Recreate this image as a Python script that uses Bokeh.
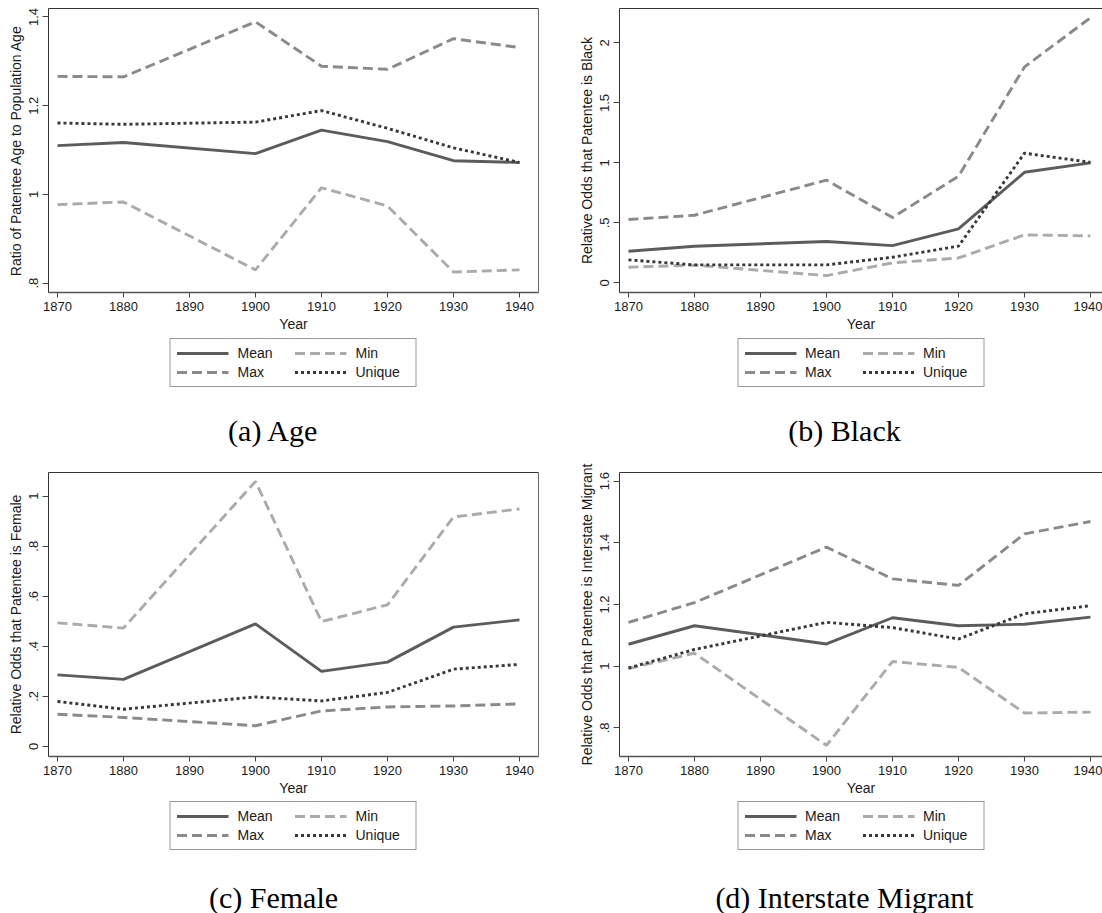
from bokeh.plotting import figure
from bokeh.models import Range1d, FixedTicker, LinearAxis, Legend, LegendItem, Label
from bokeh.layouts import column, row
from bokeh.embed import file_html
from bokeh.resources import INLINE

# ---------------- data ----------------
years = [1870, 1880, 1900, 1910, 1920, 1930, 1940]
year_ticks = [1870, 1880, 1890, 1900, 1910, 1920, 1930, 1940]

age_mean = [1.110, 1.117, 1.092, 1.145, 1.119, 1.076, 1.072]
age_max = [1.266, 1.265, 1.389, 1.289, 1.282, 1.351, 1.331]
age_min = [0.977, 0.983, 0.830, 1.015, 0.974, 0.825, 0.830]
age_unique = [1.161, 1.158, 1.163, 1.189, 1.149, 1.105, 1.072]
age_ticks = [0.8, 1.0, 1.2, 1.4]
age_tick_labels = [".8", "1", "1.2", "1.4"]

black_mean = [0.264, 0.306, 0.345, 0.311, 0.450, 0.922, 1.000]
black_max = [0.528, 0.564, 0.856, 0.545, 0.889, 1.800, 2.210]
black_min = [0.131, 0.148, 0.061, 0.167, 0.208, 0.400, 0.392]
black_unique = [0.192, 0.150, 0.150, 0.214, 0.306, 1.081, 1.005]
black_ticks = [0.0, 0.5, 1.0, 1.5, 2.0]
black_tick_labels = ["0", ".5", "1", "1.5", "2"]

female_mean = [0.286, 0.268, 0.490, 0.300, 0.337, 0.477, 0.506]
female_max = [0.129, 0.116, 0.083, 0.142, 0.158, 0.162, 0.170]
female_min = [0.494, 0.473, 1.059, 0.499, 0.566, 0.917, 0.949]
female_unique = [0.180, 0.149, 0.198, 0.182, 0.216, 0.309, 0.328]
female_ticks = [0.0, 0.2, 0.4, 0.6, 0.8, 1.0]
female_tick_labels = ["0", ".2", ".4", ".6", ".8", "1"]

migr_mean = [1.071, 1.131, 1.072, 1.157, 1.131, 1.136, 1.159]
migr_max = [1.142, 1.206, 1.386, 1.283, 1.262, 1.429, 1.469]
migr_min = [0.992, 1.042, 0.743, 1.015, 0.996, 0.848, 0.851]
migr_unique = [0.994, 1.054, 1.142, 1.125, 1.088, 1.170, 1.196]
migr_ticks = [0.8, 1.0, 1.2, 1.4, 1.6]
migr_tick_labels = [".8", "1", "1.2", "1.4", "1.6"]

series_names = ["Mean", "Max", "Min", "Unique"]

# ---------------- styles ----------------
SANS = "Liberation Sans"
SERIF = "Liberation Serif"
STYLES = [dict(line_color="#5c5c5c", line_width=2.9),
          dict(line_color="#8a8a8a", line_width=2.9, line_dash="10 5"),
          dict(line_color="#ababab", line_width=2.9, line_dash="10 5"),
          dict(line_color="#383838", line_width=2.9, line_dash="3 3")]
FRAME_H = 284
X0 = 1868.64
PX_PER_YEAR = 6.6
AXIS_H = 44


def border_axis(color):
    return LinearAxis(ticker=FixedTicker(ticks=[]), axis_line_color=color,
                      axis_line_width=1, major_tick_out=0, major_tick_in=0,
                      minor_tick_out=0, minor_tick_in=0, major_label_standoff=0,
                      major_label_text_font_size="0px", axis_label=None)


def plot_part(series, ylabel, yticks, ylabels, yrange, left, frame_w, right, top,
              right_line):
    p = figure(width=left + frame_w + right, height=top + FRAME_H + AXIS_H,
               min_border_left=left, min_border_right=right,
               min_border_top=top, min_border_bottom=AXIS_H,
               x_range=Range1d(X0, X0 + frame_w / PX_PER_YEAR),
               y_range=Range1d(*yrange),
               x_axis_location=None, y_axis_location=None,
               output_backend="svg", toolbar_location=None)
    p.grid.visible = False
    p.outline_line_color = None
    p.background_fill_color = "white"
    p.border_fill_color = "white"

    xa = LinearAxis(ticker=FixedTicker(ticks=year_ticks), axis_label="Year")
    ya = LinearAxis(ticker=FixedTicker(ticks=yticks), axis_label=ylabel,
                    major_label_overrides=dict(zip(yticks, ylabels)),
                    major_label_orientation="vertical")
    for ax in (xa, ya):
        ax.major_label_text_font = SANS
        ax.major_label_text_font_size = "13px"
        ax.major_label_text_color = "#1a1a1a"
        ax.axis_label_text_font = SANS
        ax.axis_label_text_font_size = "14px"
        ax.axis_label_text_font_style = "normal"
        ax.axis_label_text_color = "#1a1a1a"
        ax.major_tick_in = 0
        ax.minor_tick_line_color = None
        ax.major_tick_line_color = "#444444"
    xa.major_tick_out = 5
    xa.major_label_standoff = 4
    xa.axis_label_standoff = 2
    ya.major_tick_out = 6
    ya.major_label_standoff = 4
    ya.axis_label_standoff = 3
    xa.axis_line_color = "#555555"
    xa.axis_line_width = 1.6
    ya.axis_line_color = "#333333"
    ya.axis_line_width = 1
    p.add_layout(xa, "below")
    p.add_layout(ya, "left")
    p.add_layout(border_axis("#333333"), "above")
    if right_line:
        p.add_layout(border_axis("#666666"), "right")

    for vals, st in zip(series, STYLES):
        p.line(years, vals, **st)
    return p


def footer_part(series, caption, left, frame_w, right, height, leg_top, cap_x, cap_y):
    f = figure(width=left + frame_w + right, height=height,
               min_border_left=left, min_border_right=right,
               min_border_top=0, min_border_bottom=0,
               x_range=Range1d(0, frame_w), y_range=Range1d(height, 0),
               x_axis_location=None, y_axis_location=None,
               output_backend="svg", toolbar_location=None)
    f.grid.visible = False
    f.outline_line_color = None
    f.background_fill_color = "white"
    f.border_fill_color = "white"
    items = []
    # legend keys: same series and styles (their data lie outside this strip's view)
    for name, vals, st in zip(series_names, series, STYLES):
        r = f.line(years, vals, **st)
        items.append(LegendItem(label=name, renderers=[r]))
    legend = Legend(items=items, orientation="vertical", ncols=2,
                    location="top_center",
                    glyph_width=52, glyph_height=16, label_height=16,
                    label_width=54, label_standoff=9, spacing=3, padding=6,
                    margin=leg_top, border_line_color="#333333", border_line_width=1,
                    background_fill_color="white",
                    label_text_font=SANS, label_text_font_size="14px",
                    label_text_color="#1a1a1a")
    f.add_layout(legend)
    f.add_layout(Label(x=cap_x, y=cap_y, text=caption, text_align="center",
                       text_baseline="middle", text_font=SERIF,
                       text_font_size="30px", text_color="black"))
    return f


LEFT_A, FW_A, RIGHT_A = 48, 490, 37
LEFT_B, FW_B, RIGHT_B = 44, 483, 0
CAP_X = 225            # caption centre, px from the plot frame's left edge

sa = [age_mean, age_max, age_min, age_unique]
sb = [black_mean, black_max, black_min, black_unique]
sc = [female_mean, female_max, female_min, female_unique]
sd = [migr_mean, migr_max, migr_min, migr_unique]

fa = plot_part(sa, "Ratio of Patentee Age to Population Age", age_ticks, age_tick_labels,
               (0.779, 1.419), LEFT_A, FW_A, RIGHT_A, 8, True)
fb = plot_part(sb, "Relative Odds that Patentee is Black", black_ticks, black_tick_labels,
               (-0.08, 2.287), LEFT_B, FW_B, RIGHT_B, 8, False)
fc = plot_part(sc, "Relative Odds that Patentee is Female", female_ticks, female_tick_labels,
               (-0.04, 1.0947), LEFT_A, FW_A, RIGHT_A, 22, True)
fd = plot_part(sd, "Relative Odds that Patentee is Interstate Migrant", migr_ticks,
               migr_tick_labels, (0.707, 1.628), LEFT_B, FW_B, RIGHT_B, 22, False)

ga = footer_part(sa, "(a) Age", LEFT_A, FW_A, RIGHT_A, 114, 2, CAP_X, 94)
gb = footer_part(sb, "(b) Black", LEFT_B, FW_B, RIGHT_B, 114, 2, CAP_X, 94)
gc = footer_part(sc, "(c) Female", LEFT_A, FW_A, RIGHT_A, 113, 1, CAP_X, 97)
gd = footer_part(sd, "(d) Interstate Migrant", LEFT_B, FW_B, RIGHT_B, 113, 1, CAP_X, 97)

p = column(row(column(fa, ga), column(fb, gb)), row(column(fc, gc), column(fd, gd)))
open("out.html", "w").write(file_html(p, INLINE))
